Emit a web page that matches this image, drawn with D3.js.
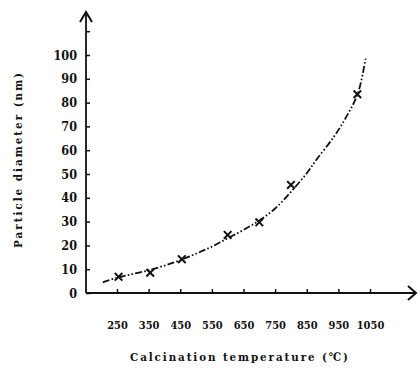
<!DOCTYPE html>
<html>
<head>
<meta charset="utf-8">
<script src="https://cdn.jsdelivr.net/npm/d3@7/dist/d3.min.js"></script>
<style>
  html, body { margin: 0; padding: 0; background: #fff; }
  svg { display: block; }
  text { font-family: "DejaVu Serif Condensed", "DejaVu Serif", serif; font-weight: bold; fill: #111; }
</style>
</head>
<body>
<svg id="chart" width="420" height="369"></svg>
<script>
// ---- data ----
const xTicks = [250, 350, 450, 550, 650, 750, 850, 950, 1050];
const xTickLabels = ["250", "350", "450", "550", "650", "750", "850", "950", "1050"];
const yTicks = [0, 10, 20, 30, 40, 50, 60, 70, 80, 90, 100, 110];
const yTickLabels = ["0", "10", "20", "30", "40", "50", "60", "70", "80", "90", "100", ""];
const pointTemps = [255, 355, 455, 600, 700, 800, 1010];
const pointDiameters = [6.8, 8.5, 14.2, 24.4, 29.7, 45.4, 83.5];
const curveTemps = [205, 250, 300, 350, 400, 450, 500, 550, 600, 650, 700, 750, 800, 850, 880, 935, 975, 1012, 1036];
const curveDiameters = [4.5, 6.4, 8.0, 9.5, 11.5, 13.8, 16.5, 19.5, 23.0, 26.5, 30.5, 35.5, 42.5, 50.3, 55.9, 65.5, 74.0, 84.0, 98.5];
const xTitle = "Calcination temperature (\u2103)";
const yTitle = "Particle diameter (nm)";

const svg = d3.select("#chart");
const x = d3.scaleLinear().domain([250, 1050]).range([117, 370]);
const y = d3.scaleLinear().domain([0, 110]).range([293, 31.2]);
const x0 = 86, y0 = 293;
const FONT = "DejaVu Serif Condensed, DejaVu Serif, serif";

// axes lines
svg.append("line").attr("x1", x0).attr("y1", y0).attr("x2", 416).attr("y2", y0)
  .attr("stroke", "#111").attr("stroke-width", 1.8);
svg.append("line").attr("x1", x0).attr("y1", y0).attr("x2", x0).attr("y2", 12)
  .attr("stroke", "#111").attr("stroke-width", 1.8);
// arrow heads
svg.append("path").attr("d", `M${x0-6},22 L${x0},12 L${x0+6},22`)
  .attr("fill", "none").attr("stroke", "#111").attr("stroke-width", 2);
svg.append("path").attr("d", `M408,286 L416,${y0} L408,300`)
  .attr("fill", "none").attr("stroke", "#111").attr("stroke-width", 2);

// x axis ticks and labels
const xAxis = d3.axisBottom(x).tickValues(xTicks).tickSizeInner(-4).tickSizeOuter(0)
  .tickPadding(28).tickFormat((d, i) => xTickLabels[i]);
const gx = svg.append("g").attr("transform", `translate(0,${y0})`).call(xAxis);
gx.select(".domain").remove();
gx.selectAll(".tick line").attr("stroke", "#111").attr("stroke-width", 1.5);
gx.selectAll(".tick text").attr("font-size", 11).attr("fill", "#111")
  .attr("font-family", FONT).attr("font-weight", "bold");

// y axis ticks and labels
const yAxis = d3.axisLeft(y).tickValues(yTicks).tickSizeInner(-4).tickSizeOuter(0)
  .tickPadding(9).tickFormat((d, i) => yTickLabels[i]);
const gy = svg.append("g").attr("transform", `translate(${x0},0)`).call(yAxis);
gy.select(".domain").remove();
gy.selectAll(".tick line").attr("stroke", "#111").attr("stroke-width", 1.5);
gy.selectAll(".tick text").attr("font-size", 12.5).attr("fill", "#111")
  .attr("font-family", FONT).attr("font-weight", "bold");

// fitted curve
const curveData = curveTemps.map((t, i) => [t, curveDiameters[i]]);
const line = d3.line().x(d => x(d[0])).y(d => y(d[1])).curve(d3.curveCatmullRom);
svg.append("path").datum(curveData).attr("d", line)
  .attr("fill", "none").attr("stroke", "#111").attr("stroke-width", 1.8)
  .attr("stroke-dasharray", "7,2.2,1.6,2.2,1.6,2.2");

// markers (x)
const pts = pointTemps.map((t, i) => [t, pointDiameters[i]]);
const s = 3.8;
svg.append("g").selectAll("path").data(pts).join("path")
  .attr("d", d => {
    const cx = x(d[0]), cy = y(d[1]);
    return `M${cx-s},${cy-s}L${cx+s},${cy+s}M${cx-s},${cy+s}L${cx+s},${cy-s}`;
  })
  .attr("stroke", "#111").attr("stroke-width", 2).attr("fill", "none");

// titles
svg.append("text").attr("x", 130).attr("y", 361).attr("font-size", 11.5)
  .attr("textLength", 218).attr("lengthAdjust", "spacing").text(xTitle);
svg.append("text").attr("transform", "translate(22,248) rotate(-90)")
  .attr("font-size", 11.5).attr("textLength", 175).attr("lengthAdjust", "spacing").text(yTitle);
</script>
</body>
</html>
